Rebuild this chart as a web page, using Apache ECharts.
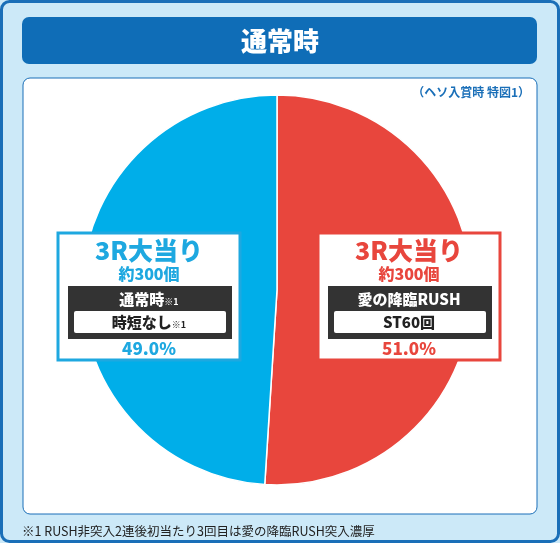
<!DOCTYPE html><html><head><meta charset="utf-8"><script src="https://cdn.jsdelivr.net/npm/echarts@6/dist/echarts.min.js"></script>
<style>html,body{margin:0;padding:0}#c{width:560px;height:543px}</style></head><body><div id="c"></div><script>
const categories=['3R大当り 愛の降臨RUSH','3R大当り 通常時'];
const values=[51.0,49.0];
const colors=['#e8463d','#00aee9'];
const F='"Noto Sans CJK JP"';
const chart=echarts.init(document.getElementById('c'));
function box(x,color,l1,l2,pct,sup){
 return [
  {type:'rect',zlevel:1,z:1,shape:{x:x,y:233,width:182,height:127},style:{fill:'#fff',stroke:color,lineWidth:3}},
  {type:'text',zlevel:1,z:2,style:{x:x+91,y:250,text:'3R大当り',fill:color,font:'900 25px '+F,align:'center',verticalAlign:'middle'}},
  {type:'text',zlevel:1,z:2,style:{x:x+91,y:274,text:'約300個',fill:color,font:'900 16px '+F,align:'center',verticalAlign:'middle'}},
  {type:'rect',zlevel:1,z:2,shape:{x:x+10,y:286,width:164,height:53},style:{fill:'#333'}},
  {type:'rect',zlevel:1,z:3,shape:{x:x+16,y:311,width:152,height:22,r:2},style:{fill:'#fff'}},
  {type:'text',zlevel:1,z:4,style:{x:x+91,y:299,text:sup?'{a|'+l1+'}{s|※1}':'{a|'+l1+'}',rich:{a:{fill:'#fff',font:'900 15px '+F},s:{fill:'#fff',font:'bold 9px '+F,padding:[5,0,0,0]}},align:'center',verticalAlign:'middle'}},
  {type:'text',zlevel:1,z:4,style:{x:x+91,y:322,text:sup?'{a|'+l2+'}{s|※1}':'{a|'+l2+'}',rich:{a:{fill:'#222',font:'900 15px '+F},s:{fill:'#222',font:'bold 9px '+F,padding:[5,0,0,0]}},align:'center',verticalAlign:'middle'}},
  {type:'text',zlevel:1,z:4,style:{x:x+91,y:349,text:pct,fill:color,font:'900 17px '+F,align:'center',verticalAlign:'middle'}}
 ];
}
chart.setOption({
 backgroundColor:'#cce9f8',
 graphic:[
  {type:'rect',z:-10,shape:{x:1.5,y:1.5,width:557,height:540,r:8},style:{fill:'#cce9f8',stroke:'#1a6fb8',lineWidth:3}},
  {type:'rect',z:-9,shape:{x:22,y:17,width:515,height:47,r:7},style:{fill:'#0f6db7'}},
  {type:'text',style:{x:280,y:41,text:'通常時',fill:'#fff',font:'900 26px '+F,align:'center',verticalAlign:'middle'}},
  {type:'rect',z:-9,shape:{x:23,y:78,width:514,height:436,r:7},style:{fill:'#fff',stroke:'#1a6fb8',lineWidth:1}},
  {type:'text',style:{x:530,y:92,text:'（ヘソ入賞時 特図1）',fill:'#1a6fb8',font:'bold 12px '+F,align:'right',verticalAlign:'middle'}},
  {type:'text',style:{x:22,y:531,text:'※1 RUSH非突入2連後初当たり3回目は愛の降臨RUSH突入濃厚',fill:'#222',font:'12.5px '+F,align:'left',verticalAlign:'middle'}},
  {type:'group',children:box(58,'#1ea8e0','通常時','時短なし','49.0%',true)},
  {type:'group',children:box(318,'#e8463d','愛の降臨RUSH','ST60回','51.0%',false)}
 ],
 series:[{type:'pie',center:[277,290],radius:[0,195],startAngle:90,clockwise:true,label:{show:false},silent:true,
  itemStyle:{borderColor:'#fff',borderWidth:1.5},
  data:categories.map((n,i)=>({name:n,value:values[i],itemStyle:{color:colors[i]}}))}]
});
</script></body></html>
